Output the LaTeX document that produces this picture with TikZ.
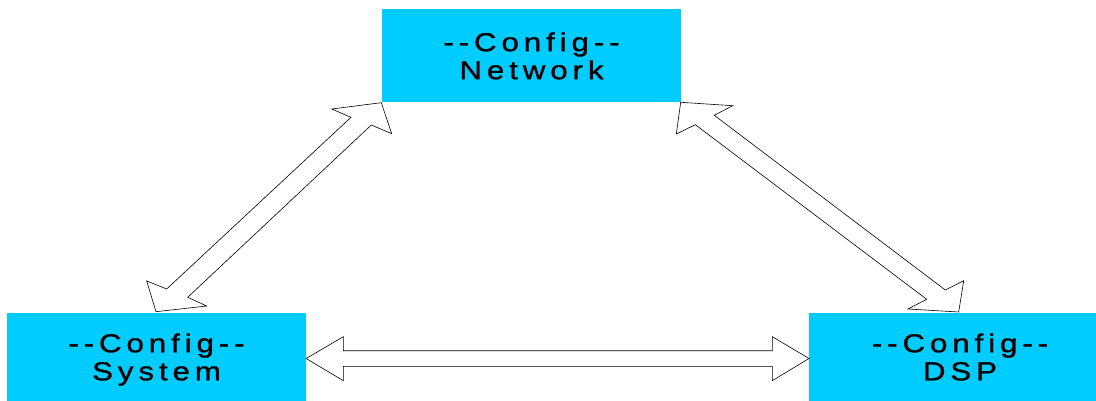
\documentclass[tikz,border=0pt]{standalone}
\usepackage{fontspec}
\newfontfamily\lbl{Liberation Sans}[FakeStretch=1.2,LetterSpace=19,FakeBold=1.2]
\definecolor{boxcyan}{RGB}{0,204,255}
\begin{document}
\begin{tikzpicture}[x=1pt,y=-1pt,
  cfgbox/.style={fill=boxcyan,draw=none,inner sep=0pt,align=center,
    font={\fontsize{26}{28}\lbl}},
  dblarrow/.style={draw=black,fill=white,line width=0.6pt,line join=miter}]
\useasboundingbox (0,0) rectangle (1096,401);
\clip (0,0) rectangle (1096,401);
\node[cfgbox,minimum width=299pt,minimum height=92.5pt] (net) at (531.5,55.75)
  {-{}-Config-{}-\\\smash{Network}};
\node[cfgbox,minimum width=299pt,minimum height=88.3pt] (sys) at (156.5,356.85)
  {-{}-Config-{}-\\\smash{System}};
\node[cfgbox,minimum width=302pt,minimum height=88.3pt] (dsp) at (960,356.85)
  {-{}-Config-{}-\\\smash{DSP}};
% Network <-> System
\coordinate (a1) at (381.3,102.7);
\coordinate (a2) at (156,311.7);
\draw[dblarrow] (a1) -- (391.7,133.7) -- (371.3,125) -- (187.7,297.3)
  -- (206.7,306) -- (a2) -- (146.7,281) -- (166.7,289) -- (351,117.3)
  -- (331.7,109) -- cycle;
% Network <-> DSP
\coordinate (b1) at (680.7,102.3);
\coordinate (b2) at (958.7,312);
\draw[dblarrow] (b1) -- (732.7,105.7) -- (714.3,115.3) -- (945.3,290)
  -- (963.7,280.7) -- (b2) -- (908,309) -- (926.7,299.3) -- (695.3,124.7)
  -- (676.3,134) -- cycle;
% System <-> DSP
\coordinate (c1) at (sys.east |- 0,358.5);
\coordinate (c2) at (809,358.5);
\draw[dblarrow] (c1) -- (343.3,336.7) -- (343.3,350.7) -- (772.3,350.7)
  -- (772.3,336.7) -- (c2) -- (772.3,380.7) -- (772.3,366.3)
  -- (343.3,366.3) -- (343.3,380.7) -- cycle;
\end{tikzpicture}
\end{document}
